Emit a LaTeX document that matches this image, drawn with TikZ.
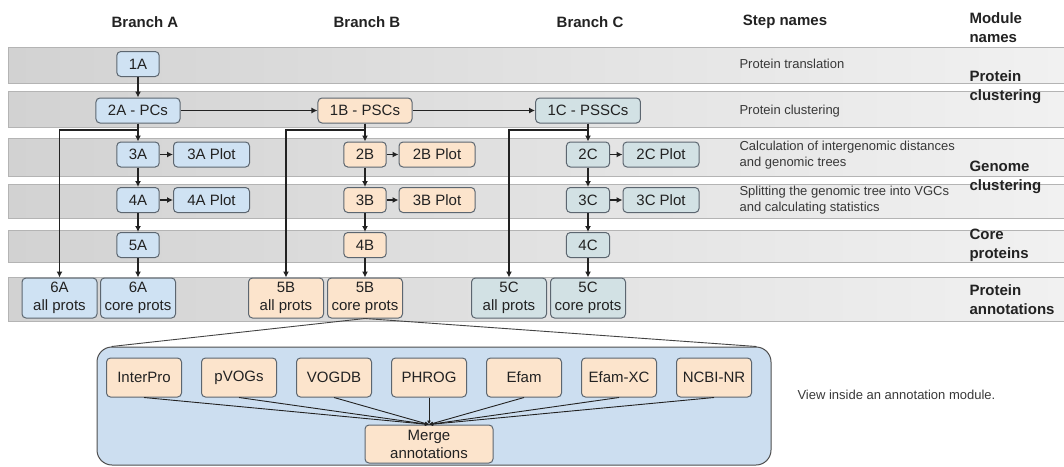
\documentclass[tikz,border=0pt]{standalone}
\usepackage{fontspec}
\setmainfont{Liberation Sans}
\usepackage{tikz}
\usetikzlibrary{arrows.meta,calc,positioning}
\definecolor{vpBlue}{HTML}{CFE2F3}
\definecolor{vpPeach}{HTML}{FCE4CC}
\definecolor{vpSage}{HTML}{D2E1E4}
\definecolor{vpModule}{HTML}{CCDEF0}
\definecolor{vpEdge}{HTML}{5C6670}
\definecolor{vpInk}{HTML}{222222}
\definecolor{vpBandL}{HTML}{D2D2D2}
\definecolor{vpBandR}{HTML}{F1F1F1}
\definecolor{vpBandLine}{HTML}{B4B4B4}
\tikzset{
  vpbox/.style={rectangle,rounded corners=4pt,draw=vpEdge,line width=1pt,
                minimum height=25pt,inner xsep=12pt,inner ysep=0pt,
                font=\fontsize{15}{18}\selectfont,text=vpInk},
  vpA/.style={vpbox,fill=vpBlue},
  vpB/.style={vpbox,fill=vpPeach},
  vpC/.style={vpbox,fill=vpSage},
  vpplot/.style={minimum width=76pt},
  vpprots/.style={minimum width=75pt,minimum height=40pt,inner xsep=2pt,
                  align=center},
  vptool/.style={vpB,minimum width=75pt,minimum height=39pt,inner xsep=3pt},
  vparrow/.style={-{Latex[length=6pt,width=6pt]},line width=1.2pt,vpInk},
  vpfan/.style={-{Latex[length=4pt,width=4pt]},line width=0.9pt,vpInk},
  vpthin/.style={line width=0.9pt,vpInk!85},
  vphead/.style={font=\fontsize{15}{19}\selectfont\bfseries,text=vpInk},
  vpmodname/.style={font=\fontsize{15}{19}\selectfont\bfseries,text=vpInk,
                    align=left,anchor=west},
  vpstepname/.style={font=\fontsize{13}{15.5}\selectfont,text=vpInk!90,
                     align=left,anchor=west}
}

\begin{document}
\begin{tikzpicture}[x=1pt,y=-1pt]
  \useasboundingbox (0,0) rectangle (1064,466);

  % gray bands, one per step row
  \foreach \yt/\yb in {47/83,91/127,138.5/176,184/218,230/262,277/321}{
    \shade[left color=vpBandL,right color=vpBandR] (8,\yt) rectangle (1064,\yb);
    \draw[vpBandLine,line width=0.8pt] (1064,\yt) -- (8,\yt) -- (8,\yb) -- (1064,\yb);
  }

  % column and table headers
  \node[vphead] (hA) at (145,22) {Branch A};
  \node[vphead] (hB) at (367,22) {Branch B};
  \node[vphead] (hC) at (590,22) {Branch C};
  \node[vphead] (hS) at (785,22) {Step names};
  \node[vpmodname] (hM) at (966,27.5) {Module\\names};

  % branch A
  \node[vpA] (a1) at (138,64) {1A};
  \node[vpA] (a2) at (138,110.5) {2A - PCs};
  \node[vpA] (a3) at (138,154.5) {3A};
  \node[vpA,vpplot] (a3p) at (211.5,154.5) {3A Plot};
  \node[vpA] (a4) at (138,200) {4A};
  \node[vpA,vpplot] (a4p) at (211.5,200) {4A Plot};
  \node[vpA] (a5) at (138,245) {5A};
  \node[vpA,vpprots] (a6all) at (59.5,298) {6A\\all prots};
  \node[vpA,vpprots] (a6core) at (138,298) {6A\\core prots};

  % branch B
  \node[vpB] (b1) at (365,110.5) {1B - PSCs};
  \node[vpB] (b2) at (365,154.5) {2B};
  \node[vpB,vpplot] (b2p) at (437,154.5) {2B Plot};
  \node[vpB] (b3) at (365,200) {3B};
  \node[vpB,vpplot] (b3p) at (437,200) {3B Plot};
  \node[vpB] (b4) at (365,245) {4B};
  \node[vpB,vpprots] (b5all) at (286,298) {5B\\all prots};
  \node[vpB,vpprots] (b5core) at (365,298) {5B\\core prots};

  % branch C
  \node[vpC] (c1) at (588,110.5) {1C - PSSCs};
  \node[vpC] (c2) at (588,154.5) {2C};
  \node[vpC,vpplot] (c2p) at (661,154.5) {2C Plot};
  \node[vpC] (c3) at (588,200) {3C};
  \node[vpC,vpplot] (c3p) at (661,200) {3C Plot};
  \node[vpC] (c4) at (588,245) {4C};
  \node[vpC,vpprots] (c5all) at (509,298) {5C\\all prots};
  \node[vpC,vpprots] (c5core) at (588,298) {5C\\core prots};

  % step and module names
  \node[vpstepname] (s1) at (736,64) {Protein translation};
  \node[vpstepname] (s2) at (736,111) {Protein clustering};
  \node[vpstepname] (s3) at (736,155) {Calculation of intergenomic distances\\and genomic trees};
  \node[vpstepname] (s4) at (736,200) {Splitting the genomic tree into VGCs\\and calculating statistics};
  \node[vpmodname] (m1) at (966,87.5) {Protein\\clustering};
  \node[vpmodname] (m2) at (966,177) {Genome\\clustering};
  \node[vpmodname] (m3) at (966,245) {Core\\proteins};
  \node[vpmodname] (m4) at (966,300) {Protein\\annotations};

  % arrows
  \coordinate (bar) at (0,130);
  \draw[vparrow] (a1) -- (a2);
  \draw[vparrow] (a2) -- (b1);
  \draw[vparrow] (b1) -- (c1);
  \foreach \src/\dst in {a2/a6all,b1/b5all,c1/c5all}
    \draw[vparrow] (\src.south) -- (\src.south |- bar) -| (\dst.north);
  \draw[vparrow] (a2) -- (a3);
  \draw[vparrow] (a3) -- (a3p);
  \draw[vparrow] (a3) -- (a4);
  \draw[vparrow] (a4) -- (a4p);
  \draw[vparrow] (a4) -- (a5);
  \draw[vparrow] (a5) -- (a6core);
  \draw[vparrow] (b1) -- (b2);
  \draw[vparrow] (b2) -- (b2p);
  \draw[vparrow] (b2) -- (b3);
  \draw[vparrow] (b3) -- (b3p);
  \draw[vparrow] (b3) -- (b4);
  \draw[vparrow] (b4) -- (b5core);
  \draw[vparrow] (c1) -- (c2);
  \draw[vparrow] (c2) -- (c2p);
  \draw[vparrow] (c2) -- (c3);
  \draw[vparrow] (c3) -- (c3p);
  \draw[vparrow] (c3) -- (c4);
  \draw[vparrow] (c4) -- (c5core);

  % inside an annotation module
  \node[rectangle,rounded corners=15pt,draw=vpInk!80,line width=1pt,fill=vpModule,
        minimum width=674pt,minimum height=118pt] (anno) at (434,406) {};
  \draw[vpthin] ([xshift=15pt]anno.north west) -- (b5core.south)
    -- ([xshift=-15pt]anno.north east);
  \foreach \tool [count=\i] in {InterPro,pVOGs,VOGDB,PHROG,Efam,Efam-XC,NCBI-NR}
    \node[vptool] (t\i) at ({49+95*\i},377.5) {\tool};
  \node[vptool,minimum width=128pt,minimum height=38pt,align=center]
    (merge) at (429,444) {Merge\\annotations};
  \foreach \i in {1,...,7}
    \draw[vpfan] (t\i.south) -- (merge.north);
  \node[vpstepname] (view) at (794,395) {View inside an annotation module.};
\end{tikzpicture}
\end{document}
